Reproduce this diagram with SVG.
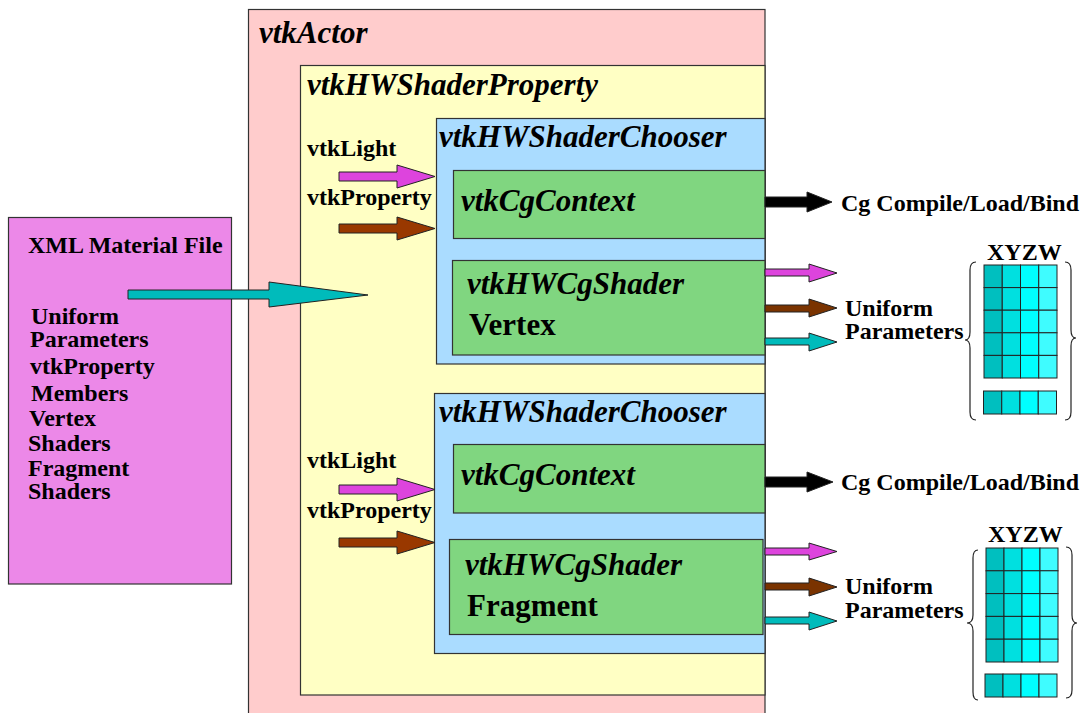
<svg xmlns="http://www.w3.org/2000/svg" width="1091" height="713" viewBox="0 0 1091 713">
<style>
.box{stroke:#333;stroke-width:1.2}
.actor{fill:#ffcccc}
.prop{fill:#ffffc4}
.chooser{fill:#aadcff}
.green{fill:#80d680}
.xml{fill:#ec88e8}
.arr{stroke:#222;stroke-width:1}
.mag{fill:#dd44dd}
.brn{fill:#993800}
.brn2{fill:#7a3300}
.teal{fill:#00bbbb}
.blk{fill:#000}
.c1{fill:#00bfbf}.c2{fill:#00e0e0}.c3{fill:#00ffff}.c4{fill:#3ffcff}
.cell{stroke:#222;stroke-width:1}
.brace{fill:none;stroke:#222;stroke-width:1.2}
</style>

<g id="vtkActor">
<rect class="box actor" x="248.5" y="9.5" width="516.5" height="720"/>
<text font-family="Liberation Serif, Times New Roman, serif" font-weight="bold" font-style="italic" font-size="31" x="259" y="43">vtkActor</text>
</g>

<g font-family="Liberation Serif, Times New Roman, serif" font-weight="bold" font-size="24">
<g id="vtkHWShaderProperty">
<rect class="box prop" x="300.5" y="65.5" width="464.5" height="629.5"/>
<text font-style="italic" font-size="31" x="307" y="95">vtkHWShaderProperty</text>
<text x="307" y="156">vtkLight</text>
<text x="307" y="205">vtkProperty</text>
<text x="307" y="468">vtkLight</text>
<text x="307" y="518">vtkProperty</text>
</g>

<g id="chooser1">
<rect class="box chooser" x="436.5" y="118.5" width="328.5" height="245.5"/>
<text font-style="italic" font-size="31" x="439" y="147">vtkHWShaderChooser</text>
</g>
<g id="cgcontext1">
<rect class="box green" x="453.5" y="170.5" width="311.5" height="68"/>
<text font-style="italic" font-size="31" x="461" y="211">vtkCgContext</text>
</g>
<g id="cgshader1">
<rect class="box green" x="452.5" y="260.5" width="312.5" height="94.5"/>
<text font-style="italic" font-size="31" x="467" y="294">vtkHWCgShader</text>
<text font-size="31" x="469" y="335">Vertex</text>
</g>

<g id="chooser2">
<rect class="box chooser" x="434.5" y="393.5" width="330.5" height="260"/>
<text font-style="italic" font-size="31" x="439" y="422">vtkHWShaderChooser</text>
</g>
<g id="cgcontext2">
<rect class="box green" x="453.5" y="444.5" width="311.5" height="68.5"/>
<text font-style="italic" font-size="31" x="461" y="485">vtkCgContext</text>
</g>
<g id="cgshader2">
<rect class="box green" x="449.5" y="539.5" width="313.5" height="95"/>
<text font-style="italic" font-size="31" x="465" y="575">vtkHWCgShader</text>
<text font-size="31" x="467" y="616">Fragment</text>
</g>

<g id="xmlFile">
<rect class="box xml" x="8.5" y="217.5" width="223" height="366.5"/>
<text x="28" y="253">XML Material File</text>
<text x="31" y="324">Uniform</text>
<text x="30" y="347">Parameters</text>
<text x="30" y="374">vtkProperty</text>
<text x="31" y="401">Members</text>
<text x="29" y="426">Vertex</text>
<text x="28" y="451">Shaders</text>
<text x="28" y="476">Fragment</text>
<text x="28" y="499">Shaders</text>
</g>

<g id="outputs">
<text x="841" y="211">Cg Compile/Load/Bind</text>
<text x="845" y="316">Uniform</text>
<text x="845" y="339">Parameters</text>
<text x="987" y="260">XYZW</text>
<text x="841" y="490">Cg Compile/Load/Bind</text>
<text x="845" y="594">Uniform</text>
<text x="845" y="618">Parameters</text>
<text x="988" y="542">XYZW</text>
</g>
</g>

<g id="matrix1">
<rect class="cell c1" x="984" y="265" width="18.25" height="22.6"/><rect class="cell c2" x="1002.25" y="265" width="18.25" height="22.6"/><rect class="cell c3" x="1020.5" y="265" width="18.25" height="22.6"/><rect class="cell c4" x="1038.75" y="265" width="18.25" height="22.6"/>
<rect class="cell c1" x="984" y="287.6" width="18.25" height="22.6"/><rect class="cell c2" x="1002.25" y="287.6" width="18.25" height="22.6"/><rect class="cell c3" x="1020.5" y="287.6" width="18.25" height="22.6"/><rect class="cell c4" x="1038.75" y="287.6" width="18.25" height="22.6"/>
<rect class="cell c1" x="984" y="310.2" width="18.25" height="22.6"/><rect class="cell c2" x="1002.25" y="310.2" width="18.25" height="22.6"/><rect class="cell c3" x="1020.5" y="310.2" width="18.25" height="22.6"/><rect class="cell c4" x="1038.75" y="310.2" width="18.25" height="22.6"/>
<rect class="cell c1" x="984" y="332.8" width="18.25" height="22.6"/><rect class="cell c2" x="1002.25" y="332.8" width="18.25" height="22.6"/><rect class="cell c3" x="1020.5" y="332.8" width="18.25" height="22.6"/><rect class="cell c4" x="1038.75" y="332.8" width="18.25" height="22.6"/>
<rect class="cell c1" x="984" y="355.4" width="18.25" height="22.6"/><rect class="cell c2" x="1002.25" y="355.4" width="18.25" height="22.6"/><rect class="cell c3" x="1020.5" y="355.4" width="18.25" height="22.6"/><rect class="cell c4" x="1038.75" y="355.4" width="18.25" height="22.6"/>
<rect class="cell c1" x="983.5" y="391" width="18.25" height="23"/><rect class="cell c2" x="1001.75" y="391" width="18.25" height="23"/><rect class="cell c3" x="1020" y="391" width="18.25" height="23"/><rect class="cell c4" x="1038.25" y="391" width="18.25" height="23"/>
<path class="brace" d="M976 262 Q970 262 970 270 L970 332 Q970 340 965 340 Q970 340 970 348 L970 412 Q970 420 976 420"/>
<path class="brace" d="M1065 262 Q1071 262 1071 270 L1071 330 Q1071 338 1076 338 Q1071 338 1071 346 L1071 412 Q1071 420 1065 420"/>
</g>

<g id="matrix2">
<rect class="cell c1" x="986" y="548" width="18" height="22.8"/><rect class="cell c2" x="1004" y="548" width="18" height="22.8"/><rect class="cell c3" x="1022" y="548" width="18" height="22.8"/><rect class="cell c4" x="1040" y="548" width="18" height="22.8"/>
<rect class="cell c1" x="986" y="570.8" width="18" height="22.8"/><rect class="cell c2" x="1004" y="570.8" width="18" height="22.8"/><rect class="cell c3" x="1022" y="570.8" width="18" height="22.8"/><rect class="cell c4" x="1040" y="570.8" width="18" height="22.8"/>
<rect class="cell c1" x="986" y="593.6" width="18" height="22.8"/><rect class="cell c2" x="1004" y="593.6" width="18" height="22.8"/><rect class="cell c3" x="1022" y="593.6" width="18" height="22.8"/><rect class="cell c4" x="1040" y="593.6" width="18" height="22.8"/>
<rect class="cell c1" x="986" y="616.4" width="18" height="22.8"/><rect class="cell c2" x="1004" y="616.4" width="18" height="22.8"/><rect class="cell c3" x="1022" y="616.4" width="18" height="22.8"/><rect class="cell c4" x="1040" y="616.4" width="18" height="22.8"/>
<rect class="cell c1" x="986" y="639.2" width="18" height="22.8"/><rect class="cell c2" x="1004" y="639.2" width="18" height="22.8"/><rect class="cell c3" x="1022" y="639.2" width="18" height="22.8"/><rect class="cell c4" x="1040" y="639.2" width="18" height="22.8"/>
<rect class="cell c1" x="985" y="674" width="18" height="23"/><rect class="cell c2" x="1003" y="674" width="18" height="23"/><rect class="cell c3" x="1021" y="674" width="18" height="23"/><rect class="cell c4" x="1039" y="674" width="18" height="23"/>
<path class="brace" d="M978 550 Q973 550 973 558 L973 615 Q973 623 967 623 Q973 623 973 631 L973 692 Q973 700 978 700"/>
<path class="brace" d="M1066 547 Q1072 547 1072 555 L1072 615 Q1072 623 1077 623 Q1072 623 1072 631 L1072 690 Q1072 698 1066 698"/>
</g>

<g id="connectors">
<polygon class="arr teal" points="128,290 269,290 269,282 368,295 269,307 269,299 128,299"/>
<polygon class="arr mag" points="339,172 397,172 397,165 435,176.5 397,188 397,181 339,181"/>
<polygon class="arr brn" points="339,224 397,224 397,217 435,228.5 397,240 397,233 339,233"/>
<polygon class="arr mag" points="339,485 397,485 397,478 435,489.5 397,501 397,494 339,494"/>
<polygon class="arr brn" points="339,538 397,538 397,531 435,542.5 397,554 397,547 339,547"/>
<polygon class="arr blk" points="765,197 807,197 807,192 832,202 807,212 807,207 765,207"/>
<polygon class="arr mag" points="765,269 809,269 809,264 837,273 809,282 809,276 765,276"/>
<polygon class="arr brn2" points="765,305 809,305 809,299 837,308 809,317 809,312 765,312"/>
<polygon class="arr teal" points="765,338 809,338 809,333 837,342 809,351 809,345 765,345"/>
<polygon class="arr blk" points="765,477 807,477 807,472 833,482 807,492 807,487 765,487"/>
<polygon class="arr mag" points="765,548 809,548 809,543 837,551.5 809,560 809,555 765,555"/>
<polygon class="arr brn2" points="765,583 809,583 809,578 837,587 809,596 809,590 765,590"/>
<polygon class="arr teal" points="765,617 809,617 809,612 837,621 809,630 809,624 765,624"/>
</g>
</svg>
